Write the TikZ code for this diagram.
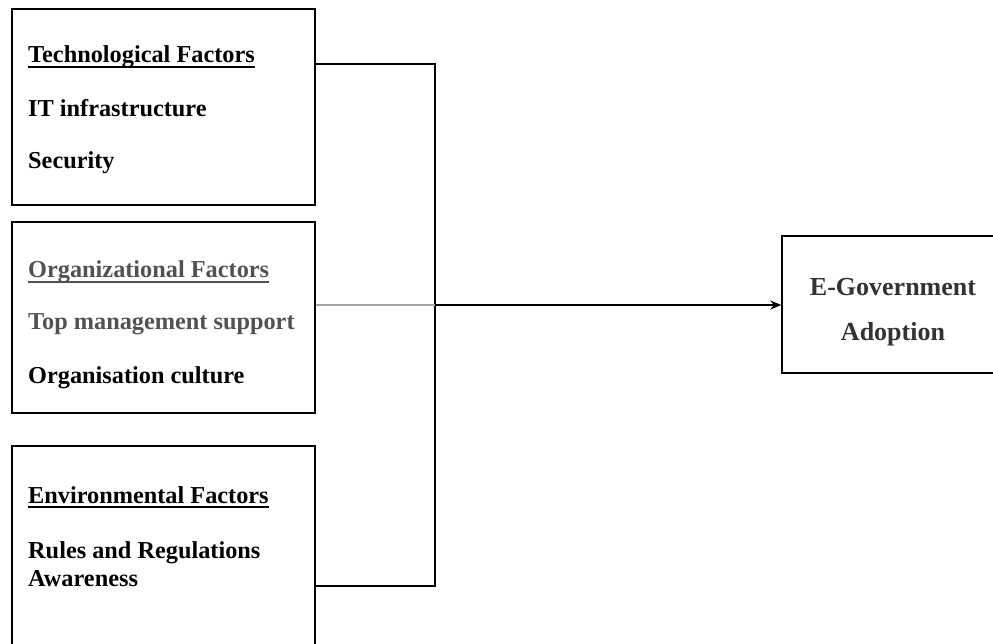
\documentclass[tikz,border=0pt]{standalone}
\usepackage{fontspec}
\setmainfont{Liberation Serif}
\usetikzlibrary{arrows.meta}
\tikzset{
  factorbox/.style={draw, line width=1.5pt, minimum width=303pt, inner sep=0pt},
  outbox/.style={draw, line width=1.5pt, inner sep=0pt},
  lbl/.style={anchor=base west, inner sep=0pt, font=\fontsize{24.3}{28}\selectfont\bfseries},
  lblgray/.style={lbl, text=black!68},
  outlbl/.style={anchor=base, inner sep=0pt, font=\fontsize{26}{30}\selectfont\bfseries, text=black!80},
  uline/.style={line width=1.1pt},
  conn/.style={line width=1.5pt},
}
\begin{document}
\begin{tikzpicture}[x=1pt,y=-1pt]
\useasboundingbox (0,0) rectangle (993,644);
% boxes
\node[factorbox, minimum height=196pt] (tech) at (163.5,107) {};
\node[factorbox, minimum height=191pt] (org) at (163.5,317.5) {};
\node[factorbox, minimum height=220pt] (env) at (163.5,556) {};
\node[outbox, minimum width=218pt, minimum height=137pt] (out) at (891,304.5) {};
% technological
\node[lbl] (th) at (28,63) {Technological Factors};
\draw[uline] ([yshift=-4pt]th.base west) -- ([yshift=-4pt]th.base east);
\node[lbl] (t1) at (28,117) {IT infrastructure};
\node[lbl] (t2) at (28,169) {Security};
% organizational
\node[lblgray] (oh) at (28,278) {Organizational Factors};
\draw[uline, black!68] ([yshift=-4pt]oh.base west) -- ([yshift=-4pt]oh.base east);
\node[lblgray] (o1) at (28,329) {Top management support};
\node[lbl] (o2) at (28,383) {Organisation culture};
% environmental
\node[lbl] (eh) at (28,503) {Environmental Factors};
\draw[uline] ([yshift=-4pt]eh.base west) -- ([yshift=-4pt]eh.base east);
\node[lbl] (e1) at (28,558) {Rules and Regulations};
\node[lbl] (e2) at (28,586) {Awareness};
% outcome
\node[outlbl] (g1) at (893,296) {E-Government};
\node[outlbl] (g2) at (893,340) {Adoption};
% connectors
\coordinate (j1) at (435,64);
\coordinate (jm) at (435,305);
\coordinate (j3) at (435,586);
\draw[conn] (tech.east |- j1) -- (j1) -- (j3) -- (env.east |- j3);
\draw[conn, black!35] (org.east |- jm) -- (jm);
\draw[conn, -{Stealth[length=11pt,width=9pt]}] (jm) -- (out.west |- jm);
\end{tikzpicture}
\end{document}
